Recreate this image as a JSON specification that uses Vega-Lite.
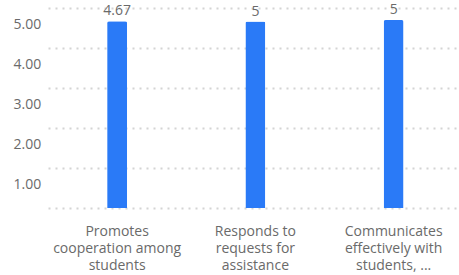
{
  "$schema": "https://vega.github.io/schema/vega-lite/v6.json",
  "autosize": "none",
  "width": 444,
  "height": 200,
  "padding": {"left": 15, "top": 8, "right": 0, "bottom": 67},
  "background": "#ffffff",
  "config": {
    "view": {"stroke": null},
    "font": "Open Sans"
  },
  "data": {
    "values": [
      {"cat": "Promotes|cooperation among|students", "bar": 4.67, "label": "4.67"},
      {"cat": "Responds to|requests for|assistance", "bar": 4.66, "label": "5"},
      {"cat": "Communicates|effectively with|students, ...", "bar": 4.7, "label": "5"}
    ]
  },
  "encoding": {
    "x": {
      "field": "cat",
      "type": "nominal",
      "sort": null,
      "scale": {"range": [33, 447.75], "paddingInner": 0, "paddingOuter": 0},
      "axis": {
        "title": null,
        "labelAngle": 0,
        "labelExpr": "split(datum.label, '|')",
        "labelFont": "Open Sans",
        "labelFontSize": 14,
        "labelColor": "#6a6a6a",
        "labelLineHeight": 17,
        "labelPadding": 16,
        "labelBaseline": "top",
        "ticks": false,
        "tickSize": 0,
        "domain": false,
        "grid": false,
        "labelLimit": 0
      }
    },
    "y": {
      "field": "bar",
      "type": "quantitative",
      "scale": {"domain": [0, 5], "nice": false},
      "axis": {
        "title": null,
        "values": [0, 1, 2, 3, 4, 5],
        "labelExpr": "datum.value == 0 ? '' : format(datum.value, '.2f')",
        "labelFont": "Open Sans",
        "labelFontSize": 14,
        "labelColor": "#6a6a6a",
        "labelAlign": "left",
        "labelBaseline": "middle",
        "labelPadding": 2,
        "labelOffset": 16,
        "ticks": false,
        "tickSize": 0,
        "domain": false,
        "grid": true,
        "gridColor": "#d4d4d4",
        "gridDash": [2, 5],
        "gridWidth": 2
      }
    }
  },
  "layer": [
    {
      "mark": {"type": "bar", "width": 20, "color": "#2a7af7", "cornerRadiusTopLeft": 2, "cornerRadiusTopRight": 2}
    },
    {
      "mark": {"type": "text", "baseline": "alphabetic", "dy": -6, "fontSize": 14, "color": "#6a6a6a", "font": "Open Sans"},
      "encoding": {"text": {"field": "label"}}
    }
  ]
}
